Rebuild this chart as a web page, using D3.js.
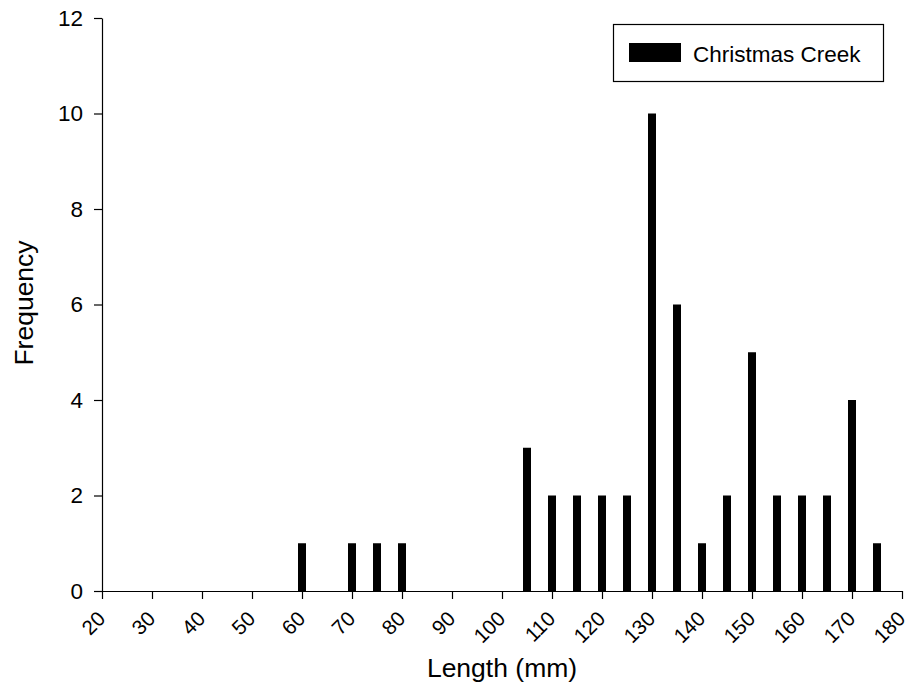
<!DOCTYPE html>
<html>
<head>
<meta charset="utf-8">
<script src="https://cdn.jsdelivr.net/npm/d3@7"></script>
<style>
  html, body { margin: 0; padding: 0; background: #fff; }
  svg { display: block; font-family: "Liberation Sans", Arial, sans-serif; }
</style>
</head>
<body>
<svg id="chart" width="908" height="683"></svg>
<script>
// Length classes (mm) and fish counts, Christmas Creek
const lengths = [60, 70, 75, 80, 105, 110, 115, 120, 125, 130, 135, 140, 145, 150, 155, 160, 165, 170, 175];
const counts  = [1, 1, 1, 1, 3, 2, 2, 2, 2, 10, 6, 1, 2, 5, 2, 2, 2, 4, 1];
const xTicks = [20, 30, 40, 50, 60, 70, 80, 90, 100, 110, 120, 130, 140, 150, 160, 170, 180];
const yTicks = [0, 2, 4, 6, 8, 10, 12];
const seriesName = "Christmas Creek";

const svg = d3.select("#chart");

const x = d3.scaleLinear().domain([20, 180]).range([102, 902]);
const y = d3.scaleLinear().domain([0, 12]).range([591, 18]);
const barW = 8;

// bars
svg.append("g")
  .selectAll("rect")
  .data(lengths.map((l, i) => ({ l, c: counts[i] })))
  .join("rect")
  .attr("x", d => x(d.l) - barW / 2)
  .attr("y", d => y(d.c))
  .attr("width", barW)
  .attr("height", d => y(0) - y(d.c))
  .attr("fill", "#000");

// x axis
const xAxis = svg.append("g")
  .attr("transform", `translate(0,${y(0)})`)
  .call(d3.axisBottom(x).tickValues(xTicks).tickSize(8).tickSizeOuter(0).tickFormat(d3.format("d")));
xAxis.select(".domain").attr("stroke", "#000").attr("stroke-width", 1.2);
xAxis.selectAll(".tick line").attr("stroke", "#000").attr("stroke-width", 1.2);
xAxis.selectAll(".tick text")
  .attr("font-size", 20.5)
  .attr("fill", "#000")
  .attr("text-anchor", "end")
  .attr("dy", 0)
  .attr("y", 0)
  .attr("transform", "translate(4,29) rotate(-45)");

// y axis
const yAxis = svg.append("g")
  .attr("transform", `translate(${x(20)},0)`)
  .call(d3.axisLeft(y).tickValues(yTicks).tickSize(8).tickSizeOuter(0).tickPadding(11));
yAxis.select(".domain").attr("stroke", "#000").attr("stroke-width", 1.2);
yAxis.selectAll(".tick line").attr("stroke", "#000").attr("stroke-width", 1.2);
yAxis.selectAll(".tick text").attr("font-size", 22.5).attr("fill", "#000");

// axis titles
svg.append("text")
  .attr("x", 502)
  .attr("y", 677)
  .attr("text-anchor", "middle")
  .attr("font-size", 26.5)
  .attr("fill", "#000")
  .text("Length (mm)");

svg.append("text")
  .attr("transform", "translate(33,303) rotate(-90)")
  .attr("text-anchor", "middle")
  .attr("font-size", 26.5)
  .attr("fill", "#000")
  .text("Frequency");

// legend
const legend = svg.append("g");
legend.append("rect")
  .attr("x", 613.5).attr("y", 24.5)
  .attr("width", 270).attr("height", 57)
  .attr("fill", "#fff")
  .attr("stroke", "#000")
  .attr("stroke-width", 1.2);
legend.append("rect")
  .attr("x", 629).attr("y", 43)
  .attr("width", 52).attr("height", 19)
  .attr("fill", "#000");
legend.append("text")
  .attr("x", 693)
  .attr("y", 61.5)
  .attr("font-size", 22.5)
  .attr("fill", "#000")
  .text(seriesName);
</script>
</body>
</html>
